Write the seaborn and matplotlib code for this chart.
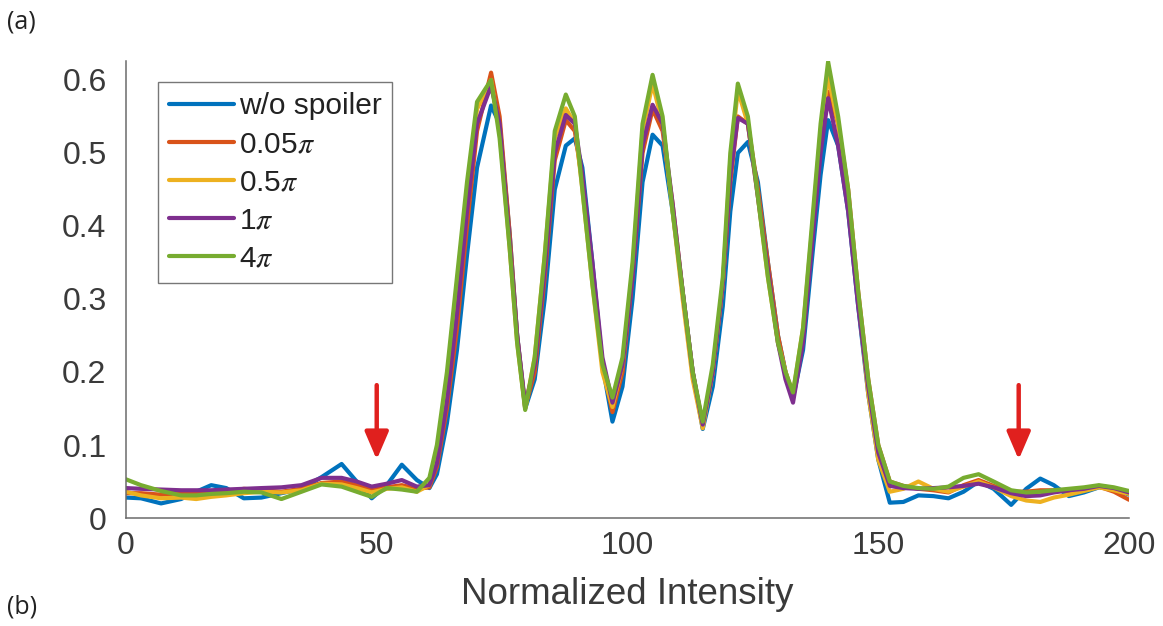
import numpy as np
import pandas as pd
import matplotlib
matplotlib.use("Agg")
import matplotlib.pyplot as plt
import seaborn as sns

# Shared sample positions along the profile
position = [0, 3, 7, 11, 14, 17, 20, 23.5, 27, 31, 35, 39, 43, 46, 49, 52, 55, 58,
            60.5, 62, 64, 66, 68, 70, 72.8, 74.5, 76.5, 78, 79.6, 81.5, 83.5, 85.5,
            87.7, 89.5, 91, 93, 95, 97, 99, 101, 103, 105, 107, 109, 111, 113, 115,
            117, 119, 120.5, 122, 124, 126, 128, 130, 131.5, 133, 135, 137, 138.5,
            140, 142, 144, 146, 148, 150, 152.3, 155, 158, 161, 164, 167, 170, 173,
            176.5, 179.5, 182.3, 185, 188, 191, 194, 197, 200]

no_spoiler = [0.028, 0.027, 0.020, 0.026, 0.036, 0.045, 0.041, 0.027, 0.028, 0.034,
              0.040, 0.056, 0.074, 0.050, 0.027, 0.045, 0.073, 0.052, 0.041, 0.06,
              0.13, 0.23, 0.36, 0.48, 0.565, 0.54, 0.39, 0.25, 0.150, 0.19, 0.30,
              0.45, 0.51, 0.52, 0.48, 0.35, 0.21, 0.132, 0.18, 0.30, 0.46, 0.525,
              0.51, 0.42, 0.31, 0.20, 0.122, 0.18, 0.29, 0.42, 0.50, 0.515, 0.46,
              0.35, 0.25, 0.20, 0.165, 0.23, 0.37, 0.47, 0.545, 0.51, 0.42, 0.29,
              0.17, 0.08, 0.021, 0.022, 0.031, 0.030, 0.027, 0.036, 0.050, 0.040,
              0.018, 0.040, 0.054, 0.045, 0.030, 0.035, 0.042, 0.040, 0.032]

spoil_005 = [0.034, 0.034, 0.032, 0.034, 0.035, 0.036, 0.036, 0.040, 0.038, 0.036,
             0.040, 0.048, 0.050, 0.045, 0.040, 0.042, 0.045, 0.040, 0.042, 0.07,
             0.15, 0.26, 0.40, 0.53, 0.610, 0.55, 0.39, 0.25, 0.152, 0.20, 0.33,
             0.49, 0.545, 0.53, 0.46, 0.34, 0.21, 0.145, 0.20, 0.33, 0.50, 0.560,
             0.53, 0.43, 0.31, 0.20, 0.127, 0.20, 0.32, 0.46, 0.550, 0.54, 0.45,
             0.35, 0.25, 0.20, 0.168, 0.25, 0.40, 0.51, 0.584, 0.54, 0.45, 0.31,
             0.19, 0.10, 0.050, 0.044, 0.040, 0.038, 0.035, 0.045, 0.052, 0.044,
             0.036, 0.036, 0.038, 0.038, 0.037, 0.040, 0.043, 0.036, 0.025]

spoil_05 = [0.036, 0.031, 0.027, 0.028, 0.026, 0.029, 0.031, 0.034, 0.036, 0.035,
            0.038, 0.047, 0.046, 0.041, 0.035, 0.040, 0.042, 0.036, 0.045, 0.09,
            0.19, 0.32, 0.45, 0.56, 0.600, 0.53, 0.37, 0.24, 0.150, 0.22, 0.36,
            0.52, 0.561, 0.54, 0.45, 0.32, 0.20, 0.152, 0.21, 0.34, 0.53, 0.595,
            0.54, 0.42, 0.30, 0.19, 0.123, 0.20, 0.32, 0.49, 0.586, 0.54, 0.44,
            0.33, 0.24, 0.20, 0.170, 0.26, 0.41, 0.53, 0.605, 0.54, 0.44, 0.30,
            0.17, 0.08, 0.036, 0.040, 0.050, 0.040, 0.036, 0.043, 0.050, 0.042,
            0.030, 0.024, 0.022, 0.028, 0.032, 0.037, 0.042, 0.038, 0.033]

spoil_1 = [0.041, 0.040, 0.039, 0.038, 0.038, 0.038, 0.039, 0.040, 0.041, 0.042,
           0.045, 0.055, 0.055, 0.050, 0.043, 0.047, 0.052, 0.043, 0.045, 0.075,
           0.16, 0.28, 0.42, 0.54, 0.592, 0.54, 0.38, 0.25, 0.155, 0.21, 0.34,
           0.50, 0.552, 0.54, 0.47, 0.35, 0.22, 0.158, 0.21, 0.33, 0.51, 0.566,
           0.54, 0.43, 0.31, 0.20, 0.128, 0.20, 0.32, 0.47, 0.548, 0.54, 0.44,
           0.34, 0.24, 0.19, 0.158, 0.24, 0.39, 0.50, 0.575, 0.51, 0.42, 0.29,
           0.18, 0.09, 0.044, 0.041, 0.040, 0.041, 0.042, 0.044, 0.047, 0.042,
           0.034, 0.030, 0.031, 0.035, 0.038, 0.040, 0.044, 0.041, 0.035]

spoil_4 = [0.053, 0.045, 0.037, 0.031, 0.031, 0.033, 0.034, 0.036, 0.035, 0.026,
           0.036, 0.046, 0.043, 0.036, 0.029, 0.041, 0.039, 0.036, 0.055, 0.10,
           0.20, 0.33, 0.46, 0.57, 0.600, 0.52, 0.37, 0.24, 0.148, 0.22, 0.36,
           0.53, 0.580, 0.55, 0.45, 0.32, 0.21, 0.165, 0.22, 0.35, 0.54, 0.607,
           0.55, 0.42, 0.31, 0.20, 0.132, 0.21, 0.33, 0.50, 0.595, 0.55, 0.44,
           0.33, 0.24, 0.20, 0.172, 0.26, 0.42, 0.54, 0.625, 0.55, 0.45, 0.31,
           0.19, 0.10, 0.050, 0.044, 0.041, 0.040, 0.043, 0.055, 0.060, 0.050,
           0.038, 0.035, 0.036, 0.038, 0.040, 0.042, 0.045, 0.042, 0.037]

labels = ["w/o spoiler", r"0.05$\pi$", r"0.5$\pi$", r"1$\pi$", r"4$\pi$"]
series = [no_spoiler, spoil_005, spoil_05, spoil_1, spoil_4]
colors = ["#0072BD", "#D95319", "#EDB120", "#7E2F8E", "#77AC30"]

# Arrow markers on the two side lobes
arrow_x = [50, 178]
arrow_top, arrow_tip = 0.182, 0.080

frames = [pd.DataFrame({"x": position, "y": vals, "setting": lab})
          for lab, vals in zip(labels, series)]
df = pd.concat(frames, ignore_index=True)

sns.set_theme(style="white")
plt.rcParams["font.family"] = ["Liberation Sans", "DejaVu Sans"]
plt.rcParams["mathtext.fontset"] = "stix"

fig = plt.figure(figsize=(11.63, 6.26), dpi=100)
ax = fig.add_axes([0.1083, 0.1725, 0.8625, 0.7301])

sns.lineplot(data=df, x="x", y="y", hue="setting", palette=colors,
             hue_order=labels, estimator=None, sort=False, linewidth=3.0,
             ax=ax, legend=True)
for line in ax.get_lines():
    line.set_solid_joinstyle("round")

for xa in arrow_x:
    ax.annotate("", xy=(xa, arrow_tip), xytext=(xa, arrow_top),
                arrowprops=dict(arrowstyle="-|>,head_width=0.6,head_length=1.4",
                                color="#E0201E", lw=3.2, shrinkA=0, shrinkB=0))

axis_grey = "#6b6b6b"
text_grey = "#3a3a3a"
ax.set_xlim(0, 200)
ax.set_ylim(0, 0.626)
ax.set_xticks([0, 50, 100, 150, 200])
ax.set_yticks([0, 0.1, 0.2, 0.3, 0.4, 0.5, 0.6])
ax.set_yticklabels(["0", "0.1", "0.2", "0.3", "0.4", "0.5", "0.6"])
ax.tick_params(direction="in", length=8, width=1.1, colors=axis_grey,
               labelcolor=text_grey, labelsize=23)
ax.tick_params(axis="y", pad=14)
ax.tick_params(axis="x", pad=9)
for side in ["top", "right"]:
    ax.spines[side].set_visible(False)
for side in ["left", "bottom"]:
    ax.spines[side].set_color(axis_grey)
    ax.spines[side].set_linewidth(1.1)
ax.set_xlabel("Normalized Intensity", fontsize=26.5, color=text_grey, labelpad=12)
ax.set_ylabel("")

handles, hl = ax.get_legend_handles_labels()
leg = ax.legend(handles, hl, loc="upper left", bbox_to_anchor=(0.032, 0.955),
                fontsize=21.5, frameon=True, fancybox=False, handlelength=2.2,
                handletextpad=0.15, labelspacing=0.34, borderpad=0.35,
                borderaxespad=0)
leg.get_frame().set_edgecolor("#555555")
leg.get_frame().set_linewidth(1.0)
for line in leg.get_lines():
    line.set_linewidth(3.0)
for t in leg.get_texts():
    t.set_color("#222222")

fig.text(0.006, 0.955, "(a)", fontsize=18, color="#222222",
         family=["Open Sans", "DejaVu Sans"])
fig.text(0.006, 0.02, "(b)", fontsize=18, color="#222222",
         family=["Open Sans", "DejaVu Sans"])

fig.savefig("out.png", dpi=100, facecolor="white")
